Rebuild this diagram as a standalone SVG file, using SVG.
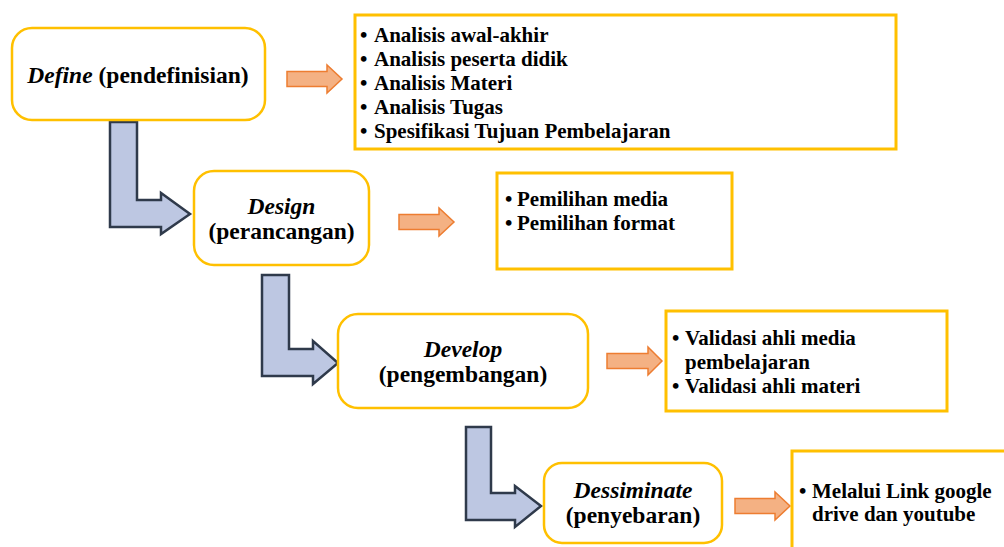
<svg xmlns="http://www.w3.org/2000/svg" width="1004" height="547" viewBox="0 0 1004 547">
<style>
.stage{fill:#fff;stroke:#FFC000;stroke-width:2.5}
.list{fill:#fff;stroke:#FFC000;stroke-width:3}
text{font-family:"Liberation Serif","Times New Roman",serif}
.lbl{font-weight:bold;font-size:23.5px;fill:#000}
.it{font-style:italic}
.txt{font-weight:bold;font-size:21px;fill:#000}
.oarrow{fill:#F4B183;stroke:#ED7D31;stroke-width:1.5}
.barrow{fill:#BDC7E2;stroke:#2F3A4B;stroke-width:2.5;stroke-linejoin:miter}
</style>
<rect width="1004" height="547" fill="#fff"/>
<g id="connectors">
<path class="barrow" d="M110 122 H137 V200 H161 V193 L190 214 L161 234 V227 H110 Z"/>
<path class="barrow" d="M262 275 H289 V349 H313 V341 L338 363 L313 384 V376 H262 Z"/>
<path class="barrow" d="M466 427 H491 V493 H515 V486 L541 506 L515 527 V520 H466 Z"/>
<path class="oarrow" d="M287 71.5 H327 V65 L342 79 L327 93 V86.5 H287 Z"/>
<path class="oarrow" d="M399 214.5 H439 V208 L454 222 L439 236 V229.5 H399 Z"/>
<path class="oarrow" d="M607 353.5 H648 V347 L662 361 L648 375 V368.5 H607 Z"/>
<path class="oarrow" d="M735 498.5 H775 V492 L790 506 L775 520 V513.5 H735 Z"/>
</g>
<g id="define">
<rect class="stage" x="12" y="28" width="253" height="92" rx="20"/>
<text class="lbl" x="138" y="83" text-anchor="middle"><tspan class="it">Define</tspan> (pendefinisian)</text>
</g>
<g id="define-list">
<rect class="list" x="355" y="15" width="541" height="134"/>
<text class="txt"><tspan x="360" y="42">•</tspan><tspan x="374" y="42">Analisis awal-akhir</tspan><tspan x="360" y="66">•</tspan><tspan x="374" y="66">Analisis peserta didik</tspan><tspan x="360" y="90">•</tspan><tspan x="374" y="90">Analisis Materi</tspan><tspan x="360" y="114">•</tspan><tspan x="374" y="114">Analisis Tugas</tspan><tspan x="360" y="138">•</tspan><tspan x="374" y="138">Spesifikasi Tujuan Pembelajaran</tspan></text>
</g>
<g id="design">
<rect class="stage" x="194" y="171" width="175" height="94" rx="20"/>
<text class="lbl" text-anchor="middle"><tspan class="it" x="281.5" y="214">Design</tspan><tspan x="281.5" y="239">(perancangan)</tspan></text>
</g>
<g id="design-list">
<rect class="list" x="497" y="173" width="235" height="96"/>
<text class="txt"><tspan x="505" y="206">•</tspan><tspan x="517" y="206">Pemilihan media</tspan><tspan x="505" y="230">•</tspan><tspan x="517" y="230">Pemilihan format</tspan></text>
</g>
<g id="develop">
<rect class="stage" x="338" y="314" width="250" height="94" rx="20"/>
<text class="lbl" text-anchor="middle"><tspan class="it" x="463" y="357">Develop</tspan><tspan x="463" y="382">(pengembangan)</tspan></text>
</g>
<g id="develop-list">
<rect class="list" x="666" y="311" width="281" height="100"/>
<text class="txt"><tspan x="672" y="345">•</tspan><tspan x="685" y="345">Validasi ahli media</tspan><tspan x="685" y="369">pembelajaran</tspan><tspan x="672" y="393">•</tspan><tspan x="685" y="393">Validasi ahli materi</tspan></text>
</g>
<g id="dessiminate">
<rect class="stage" x="544" y="463" width="178" height="80" rx="18"/>
<text class="lbl" text-anchor="middle"><tspan class="it" x="633" y="498">Dessiminate</tspan><tspan x="633" y="523">(penyebaran)</tspan></text>
</g>
<g id="dessiminate-list">
<rect class="list" x="792" y="451" width="230" height="120"/>
<text class="txt"><tspan x="799" y="498">•</tspan><tspan x="812" y="498">Melalui Link google</tspan><tspan x="812" y="521">drive dan youtube</tspan></text>
</g>
</svg>
